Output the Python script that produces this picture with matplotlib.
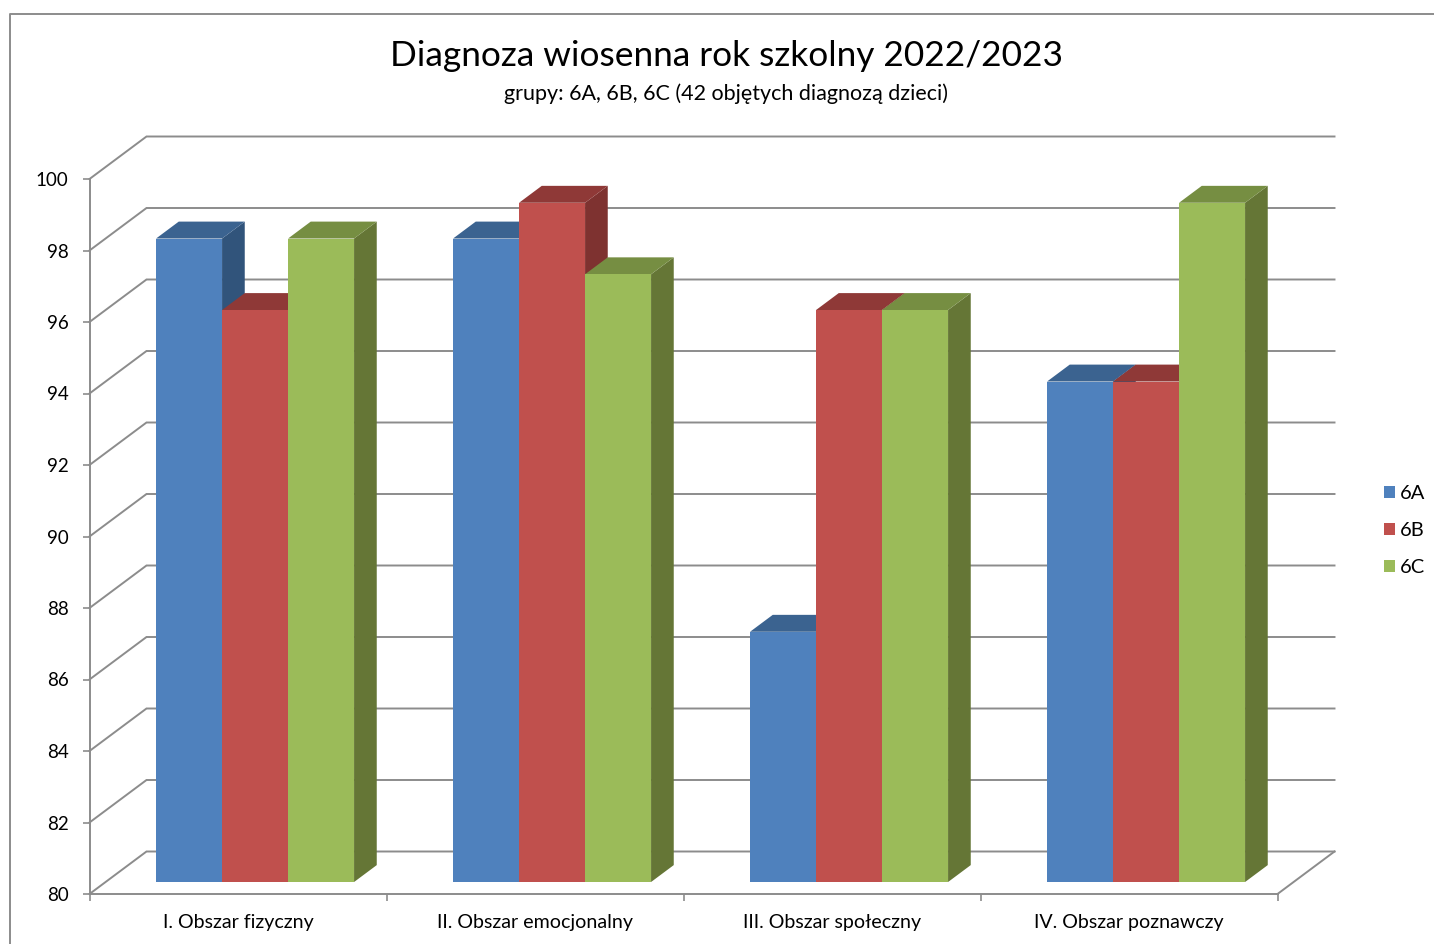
import matplotlib
matplotlib.use("Agg")
import matplotlib.pyplot as plt
from matplotlib.patches import Polygon, Patch
from matplotlib.lines import Line2D

plt.rcParams['font.family'] = ['Lato', 'DejaVu Sans']

# Dane
kategorie = ["I. Obszar fizyczny", "II. Obszar emocjonalny", "III. Obszar społeczny", "IV. Obszar poznawczy"]
serie = ["6A", "6B", "6C"]
wartosci_6a = [98, 98, 87, 94]
wartosci_6b = [96, 99, 96, 94]
wartosci_6c = [98, 97, 96, 99]
ticki_y = [80, 82, 84, 86, 88, 90, 92, 94, 96, 98, 100]

# Kolory: front, bok, góra
kolory = [("#4F81BD", "#31547B", "#3B6390"),
          ("#C0504D", "#7E3230", "#8F3937"),
          ("#9BBB59", "#657636", "#768E42")]
SZARY = "#8C8C8C"

W, H = 1434, 944
fig = plt.figure(figsize=(W / 100, H / 100), dpi=100)
ax = fig.add_axes([89.5 / W, 1 - 894 / H, 1188 / W, 715 / H])
ax.set_xlim(0, 4)
ax.set_ylim(80, 100)

# Przesunięcie perspektywy (głębokość 1 = tylna ściana) w jednostkach danych
DX = 57 / (1188 / 4)
DY = 42.5 / (715 / 20)


def rzut(x, y, d):
    return (x + DX * d, y + DY * d)


# Ramka wykresu
fig.add_artist(Line2D([10 / W, 10 / W, 1], [0, 1 - 14 / H, 1 - 14 / H], color=SZARY, lw=1.4))

# Ściany: linie siatki
for t in ticki_y:
    a = rzut(0, t, 0)
    b = rzut(0, t, 1)
    c = rzut(4, t, 1)
    ax.plot([a[0], b[0], c[0]], [a[1], b[1], c[1]], color=SZARY, lw=1.4,
            clip_on=False, zorder=1, solid_joinstyle="miter")
# Podłoga
a = rzut(4, 80, 0)
b = rzut(4, 80, 1)
ax.plot([a[0], b[0]], [a[1], b[1]], color=SZARY, lw=1.4, clip_on=False, zorder=1)

# Słupki
D1, D2 = 0.282, 0.68
szer = 2 / 9
y0 = 80
dane = [wartosci_6a, wartosci_6b, wartosci_6c]
z = 2
for i in range(len(kategorie)):
    for j, wart in enumerate(dane):
        v = wart[i]
        x1 = i + 0.17 + j * szer
        x2 = x1 + szer
        front, bok, gora = kolory[j]
        ax.add_patch(Polygon([rzut(x2, y0, D1), rzut(x2, y0, D2), rzut(x2, v, D2), rzut(x2, v, D1)],
                             fc=bok, ec="none", clip_on=False, zorder=z))
        ax.add_patch(Polygon([rzut(x1, v, D1), rzut(x2, v, D1), rzut(x2, v, D2), rzut(x1, v, D2)],
                             fc=gora, ec="none", clip_on=False, zorder=z))
        ax.add_patch(Polygon([rzut(x1, y0, D1), rzut(x2, y0, D1), rzut(x2, v, D1), rzut(x1, v, D1)],
                             fc=front, ec="none", clip_on=False, zorder=z + 0.5))
        z += 1

# Osie
for s in ["top", "right"]:
    ax.spines[s].set_visible(False)
for s in ["left", "bottom"]:
    ax.spines[s].set_color(SZARY)
    ax.spines[s].set_linewidth(1.4)
ax.patch.set_alpha(0)
ax.set_yticks(ticki_y)
ax.set_yticklabels([str(t) for t in ticki_y], fontsize=13.5, color="black")
ax.tick_params(axis="y", length=5, width=1.2, color=SZARY, pad=10)
ax.set_xticks(range(5))
ax.set_xticklabels([])
ax.tick_params(axis="x", which="major", length=5, width=1.2, color=SZARY)
ax.set_xticks([i + 0.5 for i in range(4)], minor=True)
ax.set_xticklabels(kategorie, minor=True, fontsize=14.1, color="black")
ax.tick_params(axis="x", which="minor", length=0, pad=14.5)

# Tytuł
fig.text(726 / W, 1 - 56.5 / H, "Diagnoza wiosenna rok szkolny 2022/2023", fontsize=25.4,
         ha="center", va="center", color="black")
fig.text(726 / W, 1 - 93.5 / H, "grupy: 6A, 6B, 6C (42 objętych diagnozą dzieci)", fontsize=15.5,
         ha="center", va="center", color="black")

# Legenda
uchwyty = [Patch(fc=kolory[k][0], ec="none", label=serie[k]) for k in range(3)]
fig.legend(handles=uchwyty, loc="center left", bbox_to_anchor=(1366 / W, 1 - 530.5 / H), frameon=False,
           fontsize=14.5, handlelength=0.55, handleheight=0.55, handletextpad=0.25, labelspacing=1.0)

fig.savefig("out.png", dpi=100)
